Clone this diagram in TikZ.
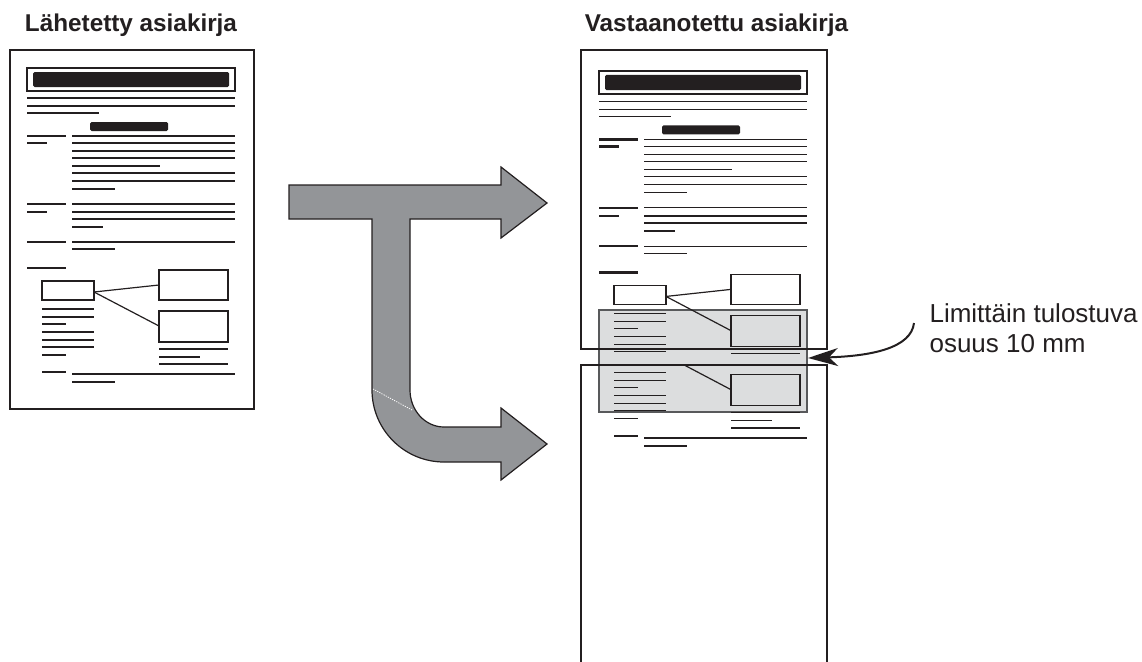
\documentclass[tikz,border=0pt]{standalone}
\usepackage{fontspec}
\setmainfont{Liberation Sans}
\usetikzlibrary{arrows.meta}
\definecolor{ink}{HTML}{231F20}
\definecolor{arrowgray}{HTML}{939598}
\definecolor{bandgray}{HTML}{DCDDDE}
\definecolor{bandedge}{HTML}{58595B}
\tikzset{
  ln/.style={draw=ink,line width=1.2pt},
  tk/.style={draw=ink,line width=2.6pt},
  bx/.style={draw=ink,line width=1.3pt},
  blackbar/.style={fill=ink,rounded corners=1.5pt},
  page/.style={draw=ink,line width=2pt},
  titletext/.style={text=ink,font=\fontsize{24.3}{29}\selectfont\bfseries},
  labeltext/.style={text=ink,font=\fontsize{26}{30}\selectfont},
}
\newcommand{\docbody}{%
  \draw[bx] (27,68) rectangle (235,91);
  \fill[blackbar] (33,72) rectangle (229,87);
  \draw[ln] (27,98) -- (235,98);
  \draw[ln] (27,106) -- (235,106);
  \draw[ln] (27,113) -- (99,113);
  \fill[blackbar] (90,122) rectangle (168,131);
  \draw[tk] (27,136) -- (66,136);
  \draw[tk] (27,143) -- (47,143);
  \foreach \yy in {136,143,151,158,173,181} {\draw[ln] (72,\yy) -- (235,\yy);}
  \draw[ln] (72,166) -- (160,166);
  \draw[ln] (72,189) -- (115,189);
  \draw[tk] (27,204) -- (66,204);
  \draw[tk] (27,212) -- (47,212);
  \foreach \yy in {204,212,219} {\draw[ln] (72,\yy) -- (235,\yy);}
  \draw[ln] (72,227) -- (103,227);
  \draw[tk] (27,242) -- (66,242);
  \draw[ln] (72,242) -- (235,242);
  \draw[ln] (72,249) -- (115,249);
  \draw[tk] (27,268) -- (66,268);
  \draw[bx] (42,281) rectangle (94,300);
  \draw[bx] (159,270) rectangle (228,300);
  \draw[bx] (159,311) rectangle (228,342);
  \draw[ln] (94,292) -- (159,285);
  \draw[ln] (94,292) -- (159,326);
  \foreach \yy in {309,317,332,340,347} {\draw[ln] (42,\yy) -- (94,\yy);}
  \draw[ln] (42,324) -- (66,324);
  \draw[ln] (42,355) -- (66,355);
  \draw[ln] (159,349) -- (228,349);
  \draw[ln] (159,357) -- (200,357);
  \draw[ln] (159,364) -- (228,364);
  \draw[tk] (42,372) -- (66,372);
  \draw[ln] (72,374) -- (235,374);
  \draw[ln] (72,382) -- (115,382);
}
\begin{document}
\begin{tikzpicture}[x=1pt,y=-1pt]
\useasboundingbox (0,0) rectangle (1142,661);
% titles
\node[titletext,anchor=base] (senttitle) at (131,32) {Lähetetty asiakirja};
\node[titletext,anchor=base] (recvtitle) at (716.5,32) {Vastaanotettu asiakirja};
% left document
\docbody
\draw[page] (10,50) rectangle (254,409);
% big arrow
\draw[fill=arrowgray,draw=ink,line width=1.2pt,line join=miter]
  (289,185) -- (501,185) -- (501,167) -- (547,203) -- (501,238) -- (501,219)
  -- (410,219) -- (410,390)
  .. controls (410,410.4) and (425.2,427) .. (444,427)
  -- (501,427) -- (501,408) -- (547,444) -- (501,480) -- (501,462) -- (444,462)
  .. controls (404.3,462) and (372,429.7) .. (372,390)
  -- (372,219) -- (289,219) -- cycle;
\draw[white,line width=0.8pt,dash pattern=on 1.2pt off 1.2pt] (373,389) -- (413,410.5);
% overlap band
\draw[fill=bandgray,draw=bandedge,line width=1.2pt] (599,310) rectangle (807,412);
% upper received page content
\begin{scope}
  \clip (560,40) rectangle (840,353.5);
  \begin{scope}[shift={(572,2.5)},yscale=1.0066]
    \docbody
  \end{scope}
\end{scope}
% lower received page content
\begin{scope}
  \clip (560,365) rectangle (840,661);
  \begin{scope}[shift={(572,61.5)},yscale=1.0066]
    \docbody
  \end{scope}
\end{scope}
% received pages
\draw[page] (581,50) rectangle (827,349);
\draw[page] (581,670) -- (581,365) -- (827,365) -- (827,670);
% callout
\node[labeltext,anchor=base west] (lblone) at (926,322) {Limittäin tulostuva};
\node[labeltext,anchor=base west] (lbltwo) at (926,352) {osuus 10 mm};
\coordinate (calloutstart) at (914,323);
\coordinate (callouttip) at (808,358);
\draw[draw=ink,line width=2pt,-{Stealth[length=30pt,width=18pt,inset=9pt]}]
  (calloutstart) .. controls (911,348) and (872,356) .. (callouttip);
\end{tikzpicture}
\end{document}
